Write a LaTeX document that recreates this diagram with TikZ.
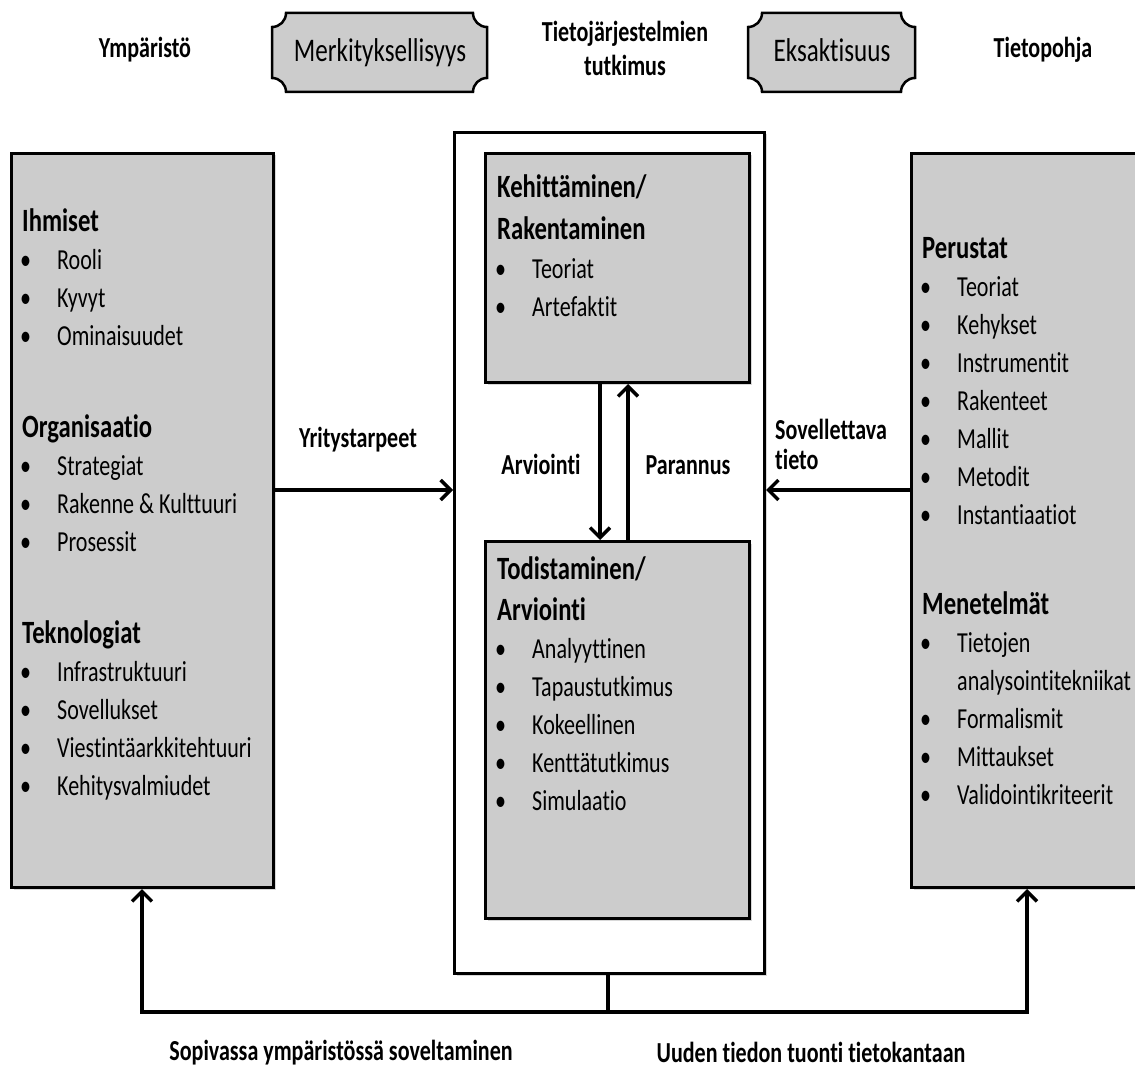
\documentclass[tikz,border=0pt]{standalone}
\usepackage{fontspec}
\setmainfont{Carlito}[FakeStretch=0.76,Ligatures=NoCommon]
\usetikzlibrary{arrows.meta,shadows}
\definecolor{boxgray}{RGB}{204,204,204}
\newcommand\myitem[4]{%
  \node[bl] (#1b) at (#2-37,#3) {•};
  \node[it] (#1) at (#2,#3) {#4};}
\newcommand\plaque[5]{% x0 y0 x1 y1 r
  \fill[black,opacity=0.25] ([xshift=2pt,yshift=-2pt]#1+#5,#2) -- (#3-#5,#2) arc[start angle=180,end angle=90,radius=#5]
    -- (#3,#4-#5) arc[start angle=270,end angle=180,radius=#5]
    -- (#1+#5,#4) arc[start angle=0,end angle=-90,radius=#5]
    -- (#1,#2+#5) arc[start angle=90,end angle=0,radius=#5] -- cycle;
  \draw[line width=2.5pt,fill=boxgray] (#1+#5,#2) -- (#3-#5,#2) arc[start angle=180,end angle=90,radius=#5]
    -- (#3,#4-#5) arc[start angle=270,end angle=180,radius=#5]
    -- (#1+#5,#4) arc[start angle=0,end angle=-90,radius=#5]
    -- (#1,#2+#5) arc[start angle=90,end angle=0,radius=#5] -- cycle;}
\begin{document}
\begin{tikzpicture}[x=1pt,y=-1pt,
  box/.style={draw, line width=3pt, fill=boxgray, anchor=north west, inner sep=0pt,
    drop shadow={shadow xshift=2pt, shadow yshift=-2pt, opacity=0.3}},
  wbox/.style={draw, line width=3pt, fill=white, anchor=north west, inner sep=0pt,
    drop shadow={shadow xshift=2pt, shadow yshift=-2pt, opacity=0.3}},
  hd/.style={anchor=base west, inner sep=0pt, font=\bfseries\fontsize{32.5}{34}\selectfont},
  it/.style={anchor=base west, inner sep=0pt, font=\fontsize{29}{30}\selectfont},
  bl/.style={anchor=base west, inner sep=0pt, font=\fontsize{29}{30}\selectfont},
  lab/.style={anchor=base, inner sep=0pt, font=\bfseries\fontsize{29}{30}\selectfont},
  ptext/.style={anchor=base, inner sep=0pt, font=\fontsize{33}{34}\selectfont},
  conn/.style={line width=3.5pt, -{Straight Barb[length=10pt,width=20pt]}},
  plain/.style={line width=3.5pt}
]
\useasboundingbox (0,0) rectangle (1135,1070);

% boxes
\node[box, minimum width=262pt, minimum height=734pt] (env) at (10,152) {};
\node[box, minimum width=240pt, minimum height=734pt] (kb) at (910,152) {};
\node[wbox, minimum width=310pt, minimum height=841pt] (is) at (453,131) {};
\node[box, minimum width=264pt, minimum height=229pt] (dev) at (484,152) {};
\node[box, minimum width=264pt, minimum height=377pt] (eval) at (484,540) {};

% plaques
\plaque{272}{13}{487}{92}{14}
\plaque{748}{13}{915}{92}{14}
\node[ptext] (merk) at (380,62) {Merkityksellisyys};
\node[ptext] (eks) at (832,62) {Eksaktisuus};

% headings
\node[lab] (ymp) at (145,58) {Ympäristö};
\node[lab] (tj1) at (625,42) {Tietojärjestelmien};
\node[lab] (tj2) at (625,76) {tutkimus};
\node[lab] (tp) at (1043,58) {Tietopohja};

% left box
\node[hd] (ihm) at (22,231) {Ihmiset};
\myitem{l1}{57}{269}{Rooli}
\myitem{l2}{57}{307}{Kyvyt}
\myitem{l3}{57}{345}{Ominaisuudet}
\node[hd] (org) at (22,437) {Organisaatio};
\myitem{l4}{57}{475}{Strategiat}
\myitem{l5}{57}{513}{Rakenne \& Kulttuuri}
\myitem{l6}{57}{551}{Prosessit}
\node[hd] (tek) at (22,643) {Teknologiat};
\myitem{l7}{57}{681}{Infrastruktuuri}
\myitem{l8}{57}{719}{Sovellukset}
\myitem{l9}{57}{757}{Viestintäarkkitehtuuri}
\myitem{l10}{57}{795}{Kehitysvalmiudet}

% right box
\node[hd] (per) at (922,258) {Perustat};
\myitem{r1}{957}{296}{Teoriat}
\myitem{r2}{957}{334}{Kehykset}
\myitem{r3}{957}{372}{Instrumentit}
\myitem{r4}{957}{410}{Rakenteet}
\myitem{r5}{957}{448}{Mallit}
\myitem{r6}{957}{486}{Metodit}
\myitem{r7}{957}{524}{Instantiaatiot}
\node[hd] (men) at (922,614) {Menetelmät};
\myitem{r8}{957}{652}{Tietojen}
\node[it] (r8x) at (957,690) {analysointitekniikat};
\myitem{r9}{957}{728}{Formalismit}
\myitem{r10}{957}{766}{Mittaukset}
\myitem{r11}{957}{804}{Validointikriteerit}

% top inner
\node[hd] (keh) at (497,197) {Kehittäminen/};
\node[hd] (rak) at (497,239) {Rakentaminen};
\myitem{d1}{532}{278}{Teoriat}
\myitem{d2}{532}{316}{Artefaktit}

% lower inner
\node[hd] (tod) at (497,579) {Todistaminen/};
\node[hd] (arv) at (497,620) {Arviointi};
\myitem{e1}{532}{658}{Analyyttinen}
\myitem{e2}{532}{696}{Tapaustutkimus}
\myitem{e3}{532}{734}{Kokeellinen}
\myitem{e4}{532}{772}{Kenttätutkimus}
\myitem{e5}{532}{810}{Simulaatio}

% connectors
\draw[conn] (env.east |- 0,490) -- (is.west |- 0,490);
\draw[conn] (kb.west |- 0,490) -- (is.east |- 0,490);
\draw[conn] (dev.south -| 600,0) -- (eval.north -| 600,0);
\draw[conn] (eval.north -| 628,0) -- (dev.south -| 628,0);
\coordinate (jn) at (608,1012);
\draw[plain] (is.south -| jn) -- (jn);
\draw[conn] (jn) -- (142,1012) -- (env.south -| 142,0);
\draw[conn] (jn) -- (1027,1012) -- (kb.south -| 1027,0);

% connector labels
\node[lab] (yt) at (358,447) {Yritystarpeet};
\node[lab] (arvl) at (541,474) {Arviointi};
\node[lab] (par) at (688,474) {Parannus};
\node[lab, anchor=base west] (sov1) at (775,439) {Sovellettava};
\node[lab, anchor=base west] (sov2) at (775,469) {tieto};
\node[lab] (sop) at (341,1060) {Sopivassa ympäristössä soveltaminen};
\node[lab] (uud) at (811,1062) {Uuden tiedon tuonti tietokantaan};
\end{tikzpicture}
\end{document}
